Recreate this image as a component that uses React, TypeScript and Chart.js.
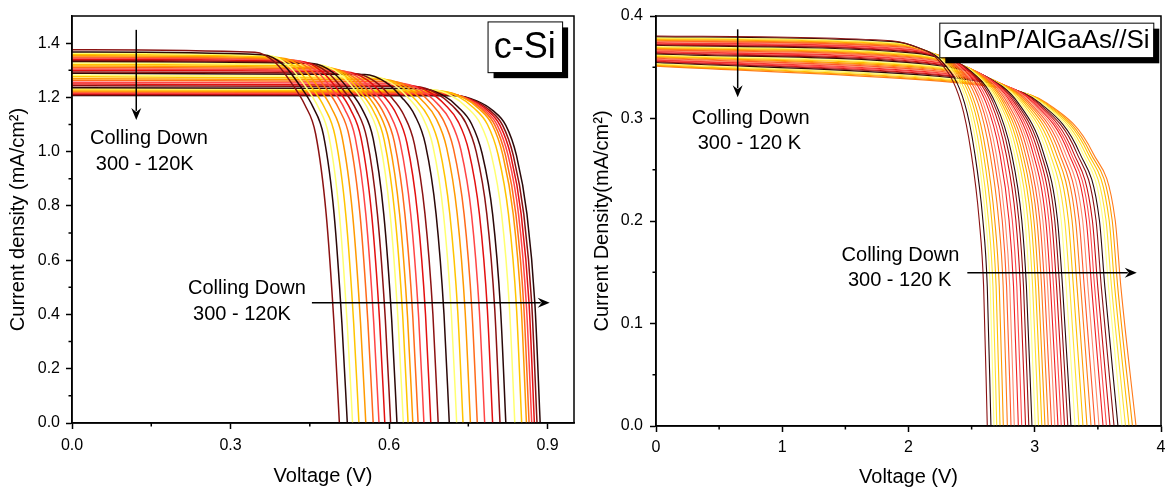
import React, { useEffect, useRef } from 'react';
import { Chart, registerables } from 'chart.js';
Chart.register(...registerables);

const FONT = '"Liberation Sans", Arial, Helvetica, sans-serif';

// ---------------- c-Si panel data ----------------
const siXTicks = [0, 0.3, 0.6, 0.9];
const siXMinor = [0.15, 0.45, 0.75];
const siYTicks = [0, 0.2, 0.4, 0.6, 0.8, 1.0, 1.2, 1.4];
const siYMinor = [0.1, 0.3, 0.5, 0.7, 0.9, 1.1, 1.3];
const siColors = ['#8B1212', '#2B0808', '#FFFF70', '#FFC400', '#FF9A00', '#FF6A1A', '#FF4545', '#E31010'];
const siVoc = [0.506, 0.521, 0.531, 0.543, 0.556, 0.570, 0.581, 0.592, 0.603, 0.615, 0.627, 0.636, 0.645, 0.655, 0.666, 0.679, 0.693, 0.714, 0.728, 0.740, 0.754, 0.767, 0.781, 0.796, 0.810, 0.821, 0.838, 0.851, 0.860, 0.865, 0.870, 0.875, 0.880, 0.886];
const siJsc = [1.376, 1.367, 1.363, 1.358, 1.354, 1.349, 1.345, 1.341, 1.336, 1.332, 1.327, 1.321, 1.316, 1.310, 1.305, 1.300, 1.294, 1.289, 1.282, 1.276, 1.269, 1.263, 1.256, 1.249, 1.243, 1.236, 1.232, 1.228, 1.224, 1.220, 1.216, 1.213, 1.210, 1.207];
// voltage distance below Voc at which the knee currents below are read
const siOffsets = [0.16, 0.12, 0.09, 0.065, 0.045, 0.025, 0.01];
const siKnee = [
  [1.366, 1.326, 1.251, 1.171, 1.066, 0.77, 0.36],
  [1.357, 1.318, 1.244, 1.165, 1.060, 0.77, 0.36],
  [1.354, 1.315, 1.242, 1.164, 1.059, 0.77, 0.36],
  [1.349, 1.311, 1.239, 1.162, 1.056, 0.77, 0.37],
  [1.345, 1.308, 1.238, 1.161, 1.055, 0.77, 0.37],
  [1.340, 1.304, 1.235, 1.158, 1.053, 0.77, 0.37],
  [1.337, 1.301, 1.233, 1.157, 1.051, 0.77, 0.37],
  [1.333, 1.297, 1.231, 1.156, 1.050, 0.77, 0.38],
  [1.328, 1.293, 1.228, 1.154, 1.048, 0.77, 0.38],
  [1.325, 1.290, 1.226, 1.153, 1.047, 0.77, 0.38],
  [1.320, 1.286, 1.223, 1.151, 1.044, 0.77, 0.38],
  [1.314, 1.281, 1.219, 1.148, 1.041, 0.77, 0.39],
  [1.309, 1.277, 1.217, 1.146, 1.039, 0.77, 0.39],
  [1.304, 1.272, 1.213, 1.142, 1.036, 0.77, 0.39],
  [1.299, 1.268, 1.210, 1.140, 1.033, 0.77, 0.39],
  [1.294, 1.264, 1.207, 1.138, 1.031, 0.77, 0.40],
  [1.288, 1.259, 1.203, 1.135, 1.028, 0.77, 0.40],
  [1.284, 1.255, 1.200, 1.133, 1.025, 0.77, 0.40],
  [1.277, 1.248, 1.195, 1.129, 1.021, 0.77, 0.40],
  [1.271, 1.243, 1.191, 1.126, 1.018, 0.77, 0.41],
  [1.265, 1.237, 1.186, 1.122, 1.014, 0.77, 0.41],
  [1.259, 1.232, 1.183, 1.119, 1.010, 0.77, 0.41],
  [1.252, 1.226, 1.178, 1.114, 1.006, 0.77, 0.41],
  [1.245, 1.220, 1.173, 1.110, 1.002, 0.77, 0.42],
  [1.240, 1.215, 1.169, 1.107, 0.999, 0.77, 0.42],
  [1.233, 1.209, 1.164, 1.103, 0.994, 0.77, 0.42],
  [1.229, 1.206, 1.162, 1.102, 0.993, 0.77, 0.42],
  [1.225, 1.203, 1.160, 1.101, 0.992, 0.77, 0.43],
  [1.222, 1.200, 1.158, 1.100, 0.990, 0.77, 0.43],
  [1.218, 1.196, 1.157, 1.099, 0.989, 0.77, 0.43],
  [1.214, 1.193, 1.155, 1.097, 0.988, 0.77, 0.43],
  [1.212, 1.191, 1.154, 1.097, 0.988, 0.77, 0.44],
  [1.209, 1.189, 1.153, 1.097, 0.987, 0.77, 0.44],
  [1.206, 1.187, 1.152, 1.097, 0.987, 0.77, 0.44],
];

// ---------------- GaInP/AlGaAs//Si panel data ----------------
const gaXTicks = [0, 1, 2, 3, 4];
const gaXMinor = [0.5, 1.5, 2.5, 3.5];
const gaYTicks = [0, 0.1, 0.2, 0.3, 0.4];
const gaYMinor = [0.05, 0.15, 0.25, 0.35];
const gaColors = ['#8B1212', '#2B0808', '#FFFF80', '#FFE030', '#FFC000', '#FF9900', '#FF7A1A', '#FF5A2A', '#FF8A6A', '#F02020', '#FF4A4A', '#C81010'];
const gaVoc = [2.624, 2.653, 2.677, 2.699, 2.725, 2.751, 2.783, 2.812, 2.838, 2.870, 2.897, 2.927, 2.953, 2.978, 3.004, 3.030, 3.056, 3.081, 3.107, 3.133, 3.159, 3.184, 3.210, 3.236, 3.262, 3.287, 3.319, 3.350, 3.382, 3.414, 3.446, 3.477, 3.509, 3.541, 3.568, 3.596, 3.628, 3.659, 3.691, 3.719, 3.747, 3.774, 3.802];
const gaJ0 = [0.3805, 0.3798, 0.3791, 0.3784, 0.3777, 0.3770, 0.3763, 0.3756, 0.3749, 0.3742, 0.3735, 0.3728, 0.3721, 0.3714, 0.3707, 0.3700, 0.3693, 0.3686, 0.3679, 0.3672, 0.3665, 0.3658, 0.3651, 0.3644, 0.3637, 0.3630, 0.3623, 0.3616, 0.3609, 0.3602, 0.3595, 0.3588, 0.3581, 0.3574, 0.3567, 0.3560, 0.3553, 0.3546, 0.3539, 0.3532, 0.3525, 0.3518, 0.3511];
// shoulder points per curve: [V, J, V, J, V, J]
const gaShoulder = [
  [1.867, 0.3759, 2.067, 0.3694, 2.227, 0.3581],
  [1.887, 0.3750, 2.089, 0.3685, 2.251, 0.3574],
  [1.902, 0.3741, 2.106, 0.3677, 2.270, 0.3567],
  [1.915, 0.3732, 2.121, 0.3668, 2.287, 0.3560],
  [1.930, 0.3723, 2.139, 0.3660, 2.307, 0.3553],
  [1.944, 0.3714, 2.154, 0.3652, 2.324, 0.3547],
  [1.961, 0.3705, 2.174, 0.3644, 2.346, 0.3540],
  [1.975, 0.3696, 2.191, 0.3635, 2.365, 0.3533],
  [1.987, 0.3686, 2.206, 0.3627, 2.382, 0.3526],
  [2.002, 0.3677, 2.223, 0.3618, 2.402, 0.3519],
  [2.014, 0.3668, 2.238, 0.3609, 2.419, 0.3512],
  [2.028, 0.3657, 2.254, 0.3599, 2.437, 0.3504],
  [2.039, 0.3648, 2.267, 0.3591, 2.452, 0.3497],
  [2.049, 0.3638, 2.279, 0.3582, 2.466, 0.3490],
  [2.059, 0.3629, 2.291, 0.3573, 2.481, 0.3483],
  [2.069, 0.3620, 2.303, 0.3565, 2.494, 0.3476],
  [2.078, 0.3611, 2.315, 0.3557, 2.508, 0.3469],
  [2.088, 0.3604, 2.326, 0.3550, 2.521, 0.3464],
  [2.096, 0.3595, 2.337, 0.3542, 2.534, 0.3457],
  [2.105, 0.3585, 2.349, 0.3533, 2.548, 0.3450],
  [2.114, 0.3576, 2.359, 0.3524, 2.560, 0.3443],
  [2.122, 0.3567, 2.369, 0.3516, 2.572, 0.3436],
  [2.129, 0.3558, 2.379, 0.3507, 2.583, 0.3429],
  [2.136, 0.3548, 2.388, 0.3498, 2.595, 0.3422],
  [2.143, 0.3539, 2.398, 0.3490, 2.606, 0.3415],
  [2.151, 0.3530, 2.407, 0.3481, 2.618, 0.3407],
  [2.159, 0.3518, 2.418, 0.3470, 2.631, 0.3399],
  [2.167, 0.3509, 2.429, 0.3462, 2.644, 0.3391],
  [2.175, 0.3500, 2.439, 0.3453, 2.657, 0.3384],
  [2.182, 0.3490, 2.449, 0.3444, 2.669, 0.3377],
  [2.190, 0.3481, 2.459, 0.3436, 2.682, 0.3370],
  [2.196, 0.3469, 2.468, 0.3425, 2.693, 0.3361],
  [2.203, 0.3460, 2.478, 0.3416, 2.705, 0.3353],
  [2.209, 0.3451, 2.486, 0.3407, 2.716, 0.3346],
  [2.214, 0.3441, 2.494, 0.3398, 2.726, 0.3339],
  [2.219, 0.3432, 2.501, 0.3389, 2.735, 0.3332],
  [2.223, 0.3423, 2.509, 0.3381, 2.745, 0.3324],
  [2.228, 0.3412, 2.516, 0.3370, 2.755, 0.3315],
  [2.233, 0.3402, 2.524, 0.3361, 2.765, 0.3308],
  [2.236, 0.3393, 2.529, 0.3352, 2.773, 0.3301],
  [2.241, 0.3383, 2.536, 0.3344, 2.782, 0.3294],
  [2.244, 0.3374, 2.542, 0.3335, 2.790, 0.3287],
  [2.247, 0.3365, 2.547, 0.3327, 2.797, 0.3280],
];
// current levels of the knee, and the voltage each curve passes them at
const gaKneeJ = [0.315, 0.266, 0.201, 0.136];
const gaKneeV = [
  [2.417, 2.497, 2.560, 2.595], [2.444, 2.525, 2.589, 2.624], [2.465, 2.548, 2.612, 2.647],
  [2.484, 2.569, 2.633, 2.669], [2.506, 2.593, 2.659, 2.694], [2.526, 2.616, 2.683, 2.719],
  [2.551, 2.645, 2.714, 2.750], [2.573, 2.671, 2.742, 2.777], [2.592, 2.694, 2.766, 2.802],
  [2.615, 2.723, 2.796, 2.832], [2.634, 2.746, 2.822, 2.858], [2.655, 2.772, 2.850, 2.886],
  [2.673, 2.795, 2.874, 2.911], [2.689, 2.816, 2.897, 2.934], [2.706, 2.838, 2.922, 2.958],
  [2.722, 2.860, 2.946, 2.983], [2.738, 2.882, 2.970, 3.007], [2.754, 2.903, 2.993, 3.030],
  [2.769, 2.924, 3.017, 3.054], [2.785, 2.946, 3.040, 3.078], [2.800, 2.967, 3.064, 3.102],
  [2.814, 2.987, 3.087, 3.125], [2.828, 3.008, 3.111, 3.149], [2.842, 3.029, 3.134, 3.173],
  [2.856, 3.050, 3.158, 3.197], [2.870, 3.070, 3.180, 3.220], [2.886, 3.096, 3.209, 3.249],
  [2.902, 3.120, 3.237, 3.277], [2.918, 3.145, 3.266, 3.306], [2.933, 3.170, 3.295, 3.335],
  [2.949, 3.195, 3.323, 3.364], [2.963, 3.219, 3.351, 3.392], [2.978, 3.243, 3.379, 3.421],
  [2.992, 3.268, 3.408, 3.450], [3.004, 3.288, 3.432, 3.474], [3.016, 3.309, 3.456, 3.499],
  [3.029, 3.334, 3.485, 3.527], [3.042, 3.357, 3.512, 3.555], [3.055, 3.380, 3.540, 3.584],
  [3.065, 3.401, 3.564, 3.608], [3.077, 3.422, 3.589, 3.633], [3.087, 3.442, 3.613, 3.657],
  [3.097, 3.462, 3.637, 3.682],
];

type Txt = { text: string; x: number; y: number };
type Arrow = { x0: number; y0: number; x1: number; y1: number };
type Box = { x0: number; y0: number; x1: number; y1: number; text: string; size: number };
type Annot = { xMinor: number[]; yMinor: number[]; texts: Txt[]; arrows: Arrow[]; box: Box };

const siAnnot: Annot = {
  xMinor: siXMinor,
  yMinor: siYMinor,
  texts: [
    { text: 'Colling Down', x: 0.034, y: 1.027 },
    { text: '300 - 120K', x: 0.045, y: 0.931 },
    { text: 'Colling Down', x: 0.2195, y: 0.474 },
    { text: '300 - 120K', x: 0.229, y: 0.378 },
  ],
  arrows: [
    { x0: 0.1216, y0: 1.449, x1: 0.1216, y1: 1.117 },
    { x0: 0.454, y0: 0.443, x1: 0.904, y1: 0.443 },
  ],
  box: { x0: 0.7864, y0: 1.48, x1: 0.9275, y1: 1.293, text: 'c-Si', size: 36 },
};

const gaAnnot: Annot = {
  xMinor: gaXMinor,
  yMinor: gaYMinor,
  texts: [
    { text: 'Colling Down', x: 0.283, y: 0.2943 },
    { text: '300 - 120 K', x: 0.33, y: 0.2698 },
    { text: 'Colling Down', x: 1.47, y: 0.1607 },
    { text: '300 - 120 K', x: 1.52, y: 0.1363 },
  ],
  arrows: [
    { x0: 0.647, y0: 0.387, x1: 0.647, y1: 0.3207 },
    { x0: 2.466, y0: 0.1496, x1: 3.808, y1: 0.1496 },
  ],
  box: { x0: 2.244, y0: 0.3935, x1: 3.939, y1: 0.3597, text: 'GaInP/AlGaAs//Si', size: 26 },
};

function drawArrow(ctx: CanvasRenderingContext2D, x0: number, y0: number, x1: number, y1: number) {
  const ang = Math.atan2(y1 - y0, x1 - x0);
  const len = 12;
  const half = 5;
  const bx = x1 - len * Math.cos(ang);
  const by = y1 - len * Math.sin(ang);
  ctx.beginPath();
  ctx.moveTo(x0, y0);
  ctx.lineTo(bx + 3 * Math.cos(ang), by + 3 * Math.sin(ang));
  ctx.lineWidth = 1.5;
  ctx.strokeStyle = '#000';
  ctx.stroke();
  const nx = -Math.sin(ang);
  const ny = Math.cos(ang);
  ctx.beginPath();
  ctx.moveTo(x1, y1);
  ctx.lineTo(bx + nx * half, by + ny * half);
  ctx.lineTo(bx + 4 * Math.cos(ang), by + 4 * Math.sin(ang));
  ctx.lineTo(bx - nx * half, by - ny * half);
  ctx.closePath();
  ctx.fillStyle = '#000';
  ctx.fill();
}

function makeAnnotPlugin(a: Annot) {
  return {
    id: 'annot',
    afterDatasetsDraw(chart: any) {
      const { ctx, chartArea, scales } = chart;
      const x = scales.x;
      const y = scales.y;
      ctx.save();
      // frame
      ctx.strokeStyle = '#000';
      ctx.lineWidth = 1.5;
      ctx.strokeRect(chartArea.left, chartArea.top, chartArea.right - chartArea.left, chartArea.bottom - chartArea.top);
      // minor ticks
      ctx.beginPath();
      a.xMinor.forEach((v) => {
        const px = x.getPixelForValue(v);
        ctx.moveTo(px, chartArea.bottom);
        ctx.lineTo(px, chartArea.bottom + 3.5);
      });
      a.yMinor.forEach((v) => {
        const py = y.getPixelForValue(v);
        ctx.moveTo(chartArea.left, py);
        ctx.lineTo(chartArea.left - 3.5, py);
      });
      ctx.stroke();
      // arrows
      a.arrows.forEach((ar) =>
        drawArrow(ctx, x.getPixelForValue(ar.x0), y.getPixelForValue(ar.y0), x.getPixelForValue(ar.x1), y.getPixelForValue(ar.y1))
      );
      // texts
      ctx.fillStyle = '#000';
      ctx.font = `20px ${FONT}`;
      ctx.textAlign = 'left';
      ctx.textBaseline = 'alphabetic';
      a.texts.forEach((t) => ctx.fillText(t.text, x.getPixelForValue(t.x), y.getPixelForValue(t.y)));
      // label box with shadow
      const b = a.box;
      const bx0 = x.getPixelForValue(b.x0);
      const bx1 = x.getPixelForValue(b.x1);
      const by0 = y.getPixelForValue(b.y0);
      const by1 = y.getPixelForValue(b.y1);
      ctx.fillStyle = '#000';
      ctx.fillRect(bx0 + 6, by0 + 6, bx1 - bx0, by1 - by0);
      ctx.fillStyle = '#fff';
      ctx.fillRect(bx0, by0, bx1 - bx0, by1 - by0);
      ctx.lineWidth = 1;
      ctx.strokeStyle = '#000';
      ctx.strokeRect(bx0 + 0.5, by0 + 0.5, bx1 - bx0, by1 - by0);
      ctx.fillStyle = '#000';
      ctx.font = `${b.size}px ${FONT}`;
      ctx.textAlign = 'center';
      ctx.textBaseline = 'middle';
      ctx.fillText(b.text, (bx0 + bx1) / 2, (by0 + by1) / 2 + 1);
      ctx.restore();
    },
  };
}

function siDatasets() {
  return siVoc.map((voc, i) => {
    const pts: { x: number; y: number }[] = [{ x: 0, y: siJsc[i] }];
    siOffsets.forEach((d, k) => pts.push({ x: voc - d, y: siKnee[i][k] }));
    pts.push({ x: voc, y: 0 });
    return {
      data: pts,
      borderColor: siColors[i % siColors.length],
      borderWidth: 1.5,
      pointRadius: 0,
      fill: false,
      cubicInterpolationMode: 'monotone' as const,
    };
  });
}

function gaDatasets() {
  return gaVoc.map((voc, i) => {
    const s = gaShoulder[i];
    const pts: { x: number; y: number }[] = [
      { x: 0, y: gaJ0[i] },
      { x: s[0], y: s[1] },
      { x: s[2], y: s[3] },
      { x: s[4], y: s[5] },
    ];
    gaKneeJ.forEach((j, k) => pts.push({ x: gaKneeV[i][k], y: j }));
    pts.push({ x: voc, y: 0 });
    return {
      data: pts,
      borderColor: gaColors[i % gaColors.length],
      borderWidth: 1.1,
      pointRadius: 0,
      fill: false,
      cubicInterpolationMode: 'monotone' as const,
    };
  });
}

function makeConfig(p: {
  datasets: any[];
  xMin: number; xMax: number; yMin: number; yMax: number;
  xTicks: number[]; yTicks: number[];
  xFmt: (v: number) => string; yFmt: (v: number) => string;
  yWidth: number; xHeight: number; padRight: number;
  yTitle: string; yTitlePad: number; xTitlePad: number;
  xTickPad: number; yTickPad: number;
  annot: Annot;
}) {
  const tickFont = { family: FONT, size: 16 };
  const titleFont = { family: FONT, size: 20 };
  const grid = { display: true, drawOnChartArea: false, drawTicks: true, tickLength: 6, tickWidth: 1.5, tickColor: '#000' };
  const border = { display: true, color: '#000', width: 1.5 };
  const zeroPad = (s: any) => { s.paddingLeft = 0; s.paddingRight = 0; s.paddingTop = 0; s.paddingBottom = 0; };
  return {
    type: 'line' as const,
    data: { datasets: p.datasets },
    options: {
      responsive: false,
      animation: false as const,
      devicePixelRatio: 1,
      layout: { padding: { left: 0, top: 16, right: p.padRight, bottom: 0 } },
      plugins: { legend: { display: false }, tooltip: { enabled: false } },
      scales: {
        x: {
          type: 'linear' as const,
          min: p.xMin,
          max: p.xMax,
          afterBuildTicks: (s: any) => { s.ticks = p.xTicks.map((v) => ({ value: v })); },
          afterFit: (s: any) => { s.height = p.xHeight; zeroPad(s); },
          ticks: { font: tickFont, color: '#000', padding: p.xTickPad, maxRotation: 0, autoSkip: false, callback: (v: any) => p.xFmt(Number(v)) },
          grid,
          border,
          title: { display: true, text: 'Voltage (V)', font: titleFont, color: '#000', padding: { top: 0, bottom: p.xTitlePad } },
        },
        y: {
          type: 'linear' as const,
          min: p.yMin,
          max: p.yMax,
          afterBuildTicks: (s: any) => { s.ticks = p.yTicks.map((v) => ({ value: v })); },
          afterFit: (s: any) => { s.width = p.yWidth; zeroPad(s); },
          ticks: { font: tickFont, color: '#000', padding: p.yTickPad, autoSkip: false, callback: (v: any) => p.yFmt(Number(v)) },
          grid,
          border,
          title: { display: true, text: p.yTitle, font: titleFont, color: '#000', padding: { top: p.yTitlePad, bottom: 0 } },
        },
      },
    },
    plugins: [makeAnnotPlugin(p.annot)],
  };
}

export default function App() {
  const ref1 = useRef<HTMLCanvasElement>(null);
  const ref2 = useRef<HTMLCanvasElement>(null);
  useEffect(() => {
    const c1 = new Chart(ref1.current as HTMLCanvasElement, makeConfig({
      datasets: siDatasets(),
      xMin: 0, xMax: 0.95, yMin: 0, yMax: 1.5,
      xTicks: siXTicks, yTicks: siYTicks,
      xFmt: (v) => v.toFixed(1), yFmt: (v) => v.toFixed(1),
      yWidth: 72, xHeight: 68, padRight: 12,
      yTitle: 'Current density (mA/cm²)', yTitlePad: 6, xTitlePad: 3,
      xTickPad: 7, yTickPad: 6,
      annot: siAnnot,
    }) as any);
    const c2 = new Chart(ref2.current as HTMLCanvasElement, makeConfig({
      datasets: gaDatasets(),
      xMin: 0, xMax: 4, yMin: 0, yMax: 0.4,
      xTicks: gaXTicks, yTicks: gaYTicks,
      xFmt: (v) => String(Math.round(v)), yFmt: (v) => v.toFixed(1),
      yWidth: 70, xHeight: 65, padRight: 5,
      yTitle: 'Current Density(mA/cm²)', yTitlePad: 4, xTitlePad: 2,
      xTickPad: 6, yTickPad: 7,
      annot: gaAnnot,
    }) as any);
    return () => { c1.destroy(); c2.destroy(); };
  }, []);
  return (
    <div style={{ position: 'fixed', left: 0, top: 0, width: 1166, height: 491, background: '#fff', overflow: 'hidden' }}>
      <canvas ref={ref1} width={586} height={491} style={{ position: 'absolute', left: 0, top: 0, width: 586, height: 491 }} />
      <canvas ref={ref2} width={580} height={491} style={{ position: 'absolute', left: 586, top: 0, width: 580, height: 491 }} />
    </div>
  );
}
